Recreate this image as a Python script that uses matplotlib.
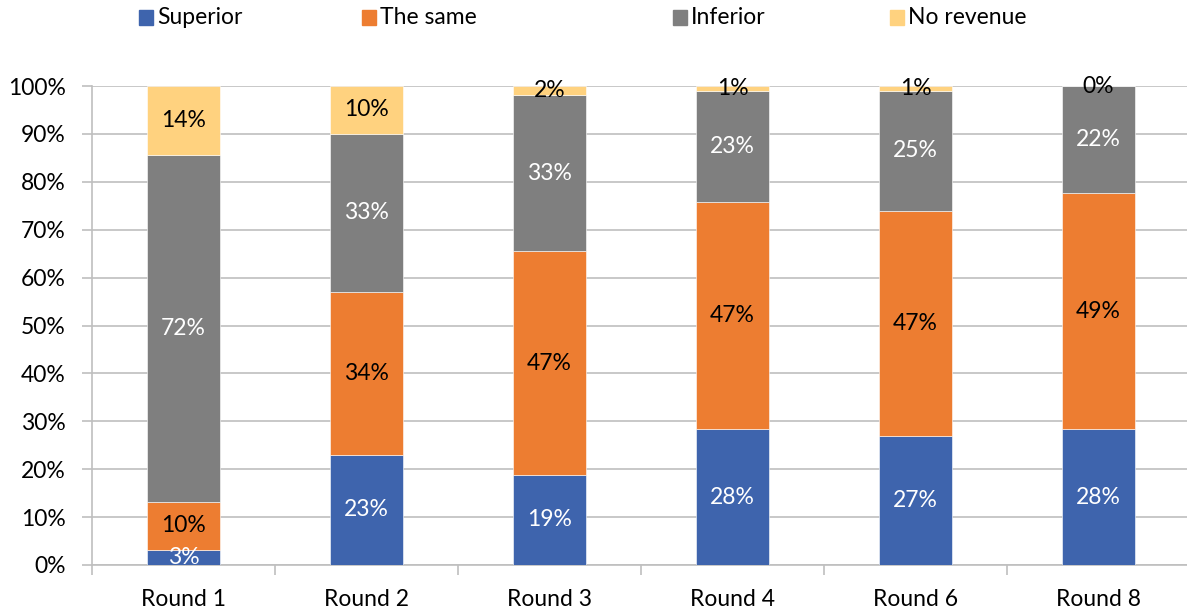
import matplotlib
matplotlib.use("Agg")
import matplotlib.pyplot as plt
from matplotlib.patches import Rectangle
import numpy as np

plt.rcParams['font.family'] = ['Lato', 'DejaVu Sans']

rounds = ['Round 1', 'Round 2', 'Round 3', 'Round 4', 'Round 6', 'Round 8']
series = ['Superior', 'The same', 'Inferior', 'No revenue']
superior = [3.2, 23.0, 18.8, 28.3, 27.0, 28.3]
the_same = [10.0, 34.0, 46.7, 47.4, 47.0, 49.4]
inferior = [72.4, 33.0, 32.6, 23.2, 25.0, 22.3]
no_revenue = [14.4, 10.0, 1.9, 1.1, 1.0, 0.0]

colors = ['#3E64AD', '#ED7D31', '#7F7F7F', '#FFD27F']
text_colors = ['white', 'black', 'white', 'black']
FS = 16.5

fig = plt.figure(figsize=(11.87, 6.11), dpi=100)
ax = fig.add_axes([0.0775, 0.0753, 0.925, 0.7839])

# labels get cut at the x axis but may poke above the top gridline
label_clip = Rectangle((0, 0), 1, 1.1, transform=ax.transAxes, visible=False)
ax.add_patch(label_clip)

x = np.arange(len(rounds))
bottom = np.zeros(len(rounds))
for vals, col, tcol in zip([superior, the_same, inferior, no_revenue], colors, text_colors):
    vals = np.array(vals)
    ax.bar(x, vals, 0.4, bottom=bottom, color=col, edgecolor='white', linewidth=0.4, zorder=3)
    for xi, b, v in zip(x, bottom, vals):
        t = ax.text(xi, b + v / 2, '%d%%' % round(v), ha='center', va='center',
                    color=tcol, fontsize=FS, zorder=4)
        t.set_clip_path(label_clip)
    bottom += vals

ax.set_xlim(-0.5, len(rounds) - 0.5)
ax.set_ylim(0, 100)
ax.set_yticks(np.arange(0, 101, 10))
ax.set_yticklabels(['%d%%' % v for v in range(0, 101, 10)])
ax.yaxis.grid(True, color='#bfbfbf', linewidth=1.2, zorder=0)
ax.set_axisbelow(True)

ax.set_xticks(x)
ax.set_xticklabels(rounds)
ax.set_xticks(np.arange(-0.5, len(rounds), 1), minor=True)
ax.tick_params(axis='x', which='major', length=0, labelsize=FS, pad=17)
ax.tick_params(axis='x', which='minor', length=7, color='#bfbfbf', width=1.2)
ax.tick_params(axis='y', length=7, color='#bfbfbf', width=1.2, labelsize=FS, pad=12)

for s in ['top', 'right']:
    ax.spines[s].set_visible(False)
for s in ['left', 'bottom']:
    ax.spines[s].set_color('#bfbfbf')
    ax.spines[s].set_linewidth(1.2)

# legend along the top, laid out by hand
legend_x = [139, 362, 673, 890]
W, H = 1187.0, 611.0
for lx, name, col in zip(legend_x, series, colors):
    fig.patches.append(Rectangle((lx / W, 1 - 25 / H), 14 / W, 15 / H, color=col,
                                 transform=fig.transFigure, figure=fig))
    fig.text((lx + 18) / W, 1 - 18 / H, name, fontsize=FS, va='center', ha='left')

fig.savefig('out.png', dpi=100)
